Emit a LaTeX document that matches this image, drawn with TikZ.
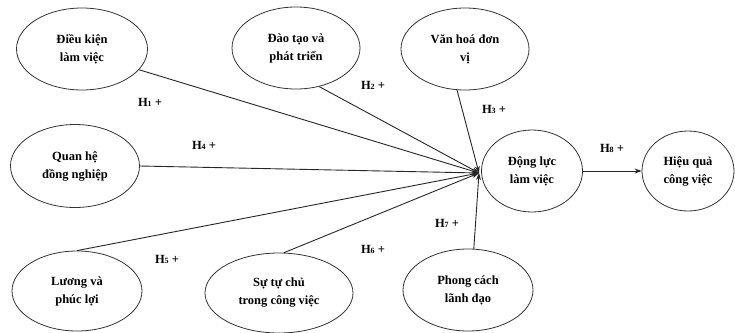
\documentclass[tikz,border=0pt]{standalone}
\usepackage{fontspec}
\setmainfont{Liberation Serif}
\usetikzlibrary{shapes.geometric,arrows.meta}
\begin{document}
\begin{tikzpicture}[x=1pt,y=-1pt,
  factor/.style={ellipse,draw=black!80,line width=0.8pt,inner sep=0pt,
    align=center,font=\bfseries\fontsize{12.5}{18}\selectfont},
  hyp/.style={font=\bfseries\fontsize{12.5}{14}\selectfont},
  link/.style={draw=black!85,line width=0.9pt,-{Stealth[length=7pt,width=5pt]}}]
\useasboundingbox (0,0) rectangle (735,332);
% factor ellipses
\node[factor,minimum width=131pt,minimum height=82pt] (dk) at (82,49) {Điều kiện\\làm việc};
\node[factor,minimum width=128pt,minimum height=82pt] (dt) at (296,48) {Đào tạo và\\phát triển};
\node[factor,minimum width=128pt,minimum height=82pt] (vh) at (465,49) {Văn hoá đơn\\vị};
\node[factor,minimum width=129pt,minimum height=83pt] (qh) at (75,166) {Quan hệ\\đồng nghiệp};
\node[factor,minimum width=101pt,minimum height=82pt] (dl) at (532,171) {Động lực\\làm việc};
\node[factor,minimum width=92pt,minimum height=80pt] (hq) at (688,171) {Hiệu quả\\công việc};
\node[factor,minimum width=130pt,minimum height=80pt] (lp) at (77,291) {Lương và\\phúc lợi};
\node[factor,minimum width=148pt,minimum height=80pt] (tc) at (279,293) {Sự tự chủ\\trong công việc};
\node[factor,minimum width=130pt,minimum height=82pt] (pc) at (468,290) {Phong cách\\lãnh đạo};
% common arrival point left of the motivation ellipse
\coordinate (hub) at (479,173);
% hypothesis connectors
\draw[link] (dk.-20) -- (hub);
\draw[link] (dt.-59) -- (hub);
\draw[link] (vh.-101) -- (hub);
\draw[link] (qh.east) -- (hub);
\draw[link] (lp.north) -- (hub);
\draw[link] (tc.83) -- (hub);
\draw[link] (pc.82) -- (hub);
\draw[link] (dl) -- (hq);
% hypothesis labels
\newcommand{\hlab}[1]{H{\fontsize{8}{8}\selectfont #1} +}
\node[hyp] (h1) at (150,102) {\hlab{1}};
\node[hyp] (h2) at (373,85) {\hlab{2}};
\node[hyp] (h3) at (494,109) {\hlab{3}};
\node[hyp] (h4) at (204,145) {\hlab{4}};
\node[hyp] (h5) at (167,259) {\hlab{5}};
\node[hyp] (h6) at (373,249) {\hlab{6}};
\node[hyp] (h7) at (447,223) {\hlab{7}};
\node[hyp] (h8) at (612,148) {\hlab{8}};
\end{tikzpicture}
\end{document}
